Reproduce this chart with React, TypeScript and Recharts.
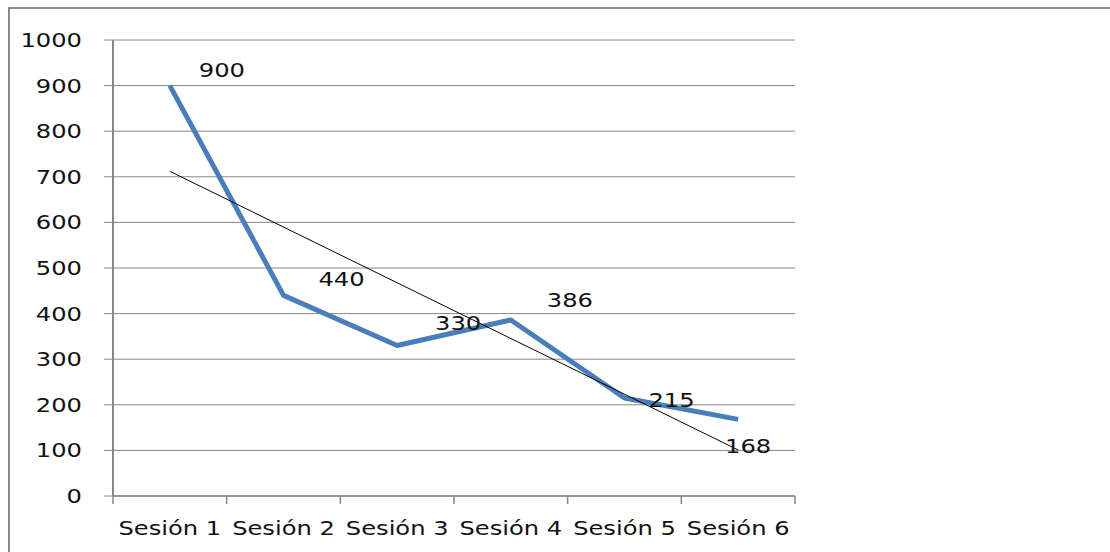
import { LineChart, Line, XAxis, YAxis, CartesianGrid, ReferenceLine, LabelList } from "recharts";

const sesiones = ["Sesión 1", "Sesión 2", "Sesión 3", "Sesión 4", "Sesión 5", "Sesión 6"];
const valores = [900, 440, 330, 386, 215, 168];
const yTicks = [0, 100, 200, 300, 400, 500, 600, 700, 800, 900, 1000];
// tendencia: extremos
const tendenciaInicio = 712;
const tendenciaFin = 101;

const data = sesiones.map((s, i) => ({ sesion: s, valor: valores[i] }));

const W = 1110;
const H = 552;
const PLOT_LEFT = 113;
const PLOT_RIGHT = 795;
const PLOT_TOP = 40;
const PLOT_BOTTOM = 496;
const BAND = (PLOT_RIGHT - PLOT_LEFT) / sesiones.length;

const FONT = "'DejaVu Sans', Verdana, sans-serif";
const FS = 20;
const SX = 1.21;
const GRAY = "#868686";

// desplazamiento de cada etiqueta respecto a su punto (centro x, línea base y)
const labelOffsets = [
    [52, -9],
    [58, -9],
    [61, -16],
    [59, -13],
    [47, 9],
    [10, 34],
];

const Stretched = ({ x, y, anchor, children }: any) => (
    <g transform={`translate(${x},${y}) scale(${SX},1)`}>
        <text x={0} y={0} textAnchor={anchor} fontFamily={FONT} fontSize={FS} fill="#111">
            {children}
        </text>
    </g>
);

const YTick = (props: any) => {
    const { y, payload } = props;
    return <Stretched x={PLOT_LEFT - 31} y={y + 7} anchor="end">{payload.value}</Stretched>;
};

const XTick = (props: any) => {
    const { x, payload, index } = props;
    const left = x - BAND / 2;
    return (
        <g>
            <line x1={left} x2={left} y1={PLOT_BOTTOM} y2={PLOT_BOTTOM + 8} stroke={GRAY} strokeWidth={1.5} />
            {index === sesiones.length - 1 && (
                <line x1={x + BAND / 2} x2={x + BAND / 2} y1={PLOT_BOTTOM} y2={PLOT_BOTTOM + 8} stroke={GRAY} strokeWidth={1.5} />
            )}
            <Stretched x={x} y={PLOT_BOTTOM + 39} anchor="middle">{payload.value}</Stretched>
        </g>
    );
};

const ValueLabel = (props: any) => {
    const { x, y, value, index } = props;
    const [dx, dy] = labelOffsets[index] || [0, 0];
    return <Stretched x={x + dx} y={y + dy} anchor="middle">{value}</Stretched>;
};

export default function App() {
    return (
        <div style={{ position: "absolute", left: 0, top: 0, width: W, height: H, background: "#fff" }}>
            <div style={{
                position: "absolute",
                left: 8,
                top: 7,
                width: W - 8,
                height: H - 7,
                borderTop: "2px solid #8a8a8a",
                borderLeft: "2px solid #8a8a8a",
            }} />
            <LineChart
                width={W}
                height={H}
                data={data}
                margin={{ top: PLOT_TOP, right: W - PLOT_RIGHT, bottom: 0, left: 0 }}
                style={{ position: "absolute", left: 0, top: 0 }}
            >
                <CartesianGrid vertical={false} stroke={GRAY} strokeWidth={1} />
                <XAxis
                    dataKey="sesion"
                    height={H - PLOT_BOTTOM}
                    padding={{ left: BAND / 2, right: BAND / 2 }}
                    axisLine={{ stroke: GRAY, strokeWidth: 1.5 }}
                    tickLine={false}
                    tick={<XTick />}
                    interval={0}
                />
                <YAxis
                    width={PLOT_LEFT}
                    domain={[0, 1000]}
                    ticks={yTicks}
                    interval={0}
                    tickSize={9}
                    axisLine={{ stroke: GRAY, strokeWidth: 2 }}
                    tickLine={{ stroke: GRAY, strokeWidth: 1 }}
                    tick={<YTick />}
                />
                <Line
                    type="linear"
                    dataKey="valor"
                    stroke="#4A7EBB"
                    strokeWidth={5}
                    dot={false}
                    strokeLinejoin="round"
                    isAnimationActive={false}
                >
                    <LabelList dataKey="valor" content={<ValueLabel />} />
                </Line>
                <ReferenceLine
                    segment={[
                        { x: sesiones[0], y: tendenciaInicio },
                        { x: sesiones[sesiones.length - 1], y: tendenciaFin },
                    ]}
                    stroke="#000"
                    strokeWidth={1}
                />
            </LineChart>
        </div>
    );
}
